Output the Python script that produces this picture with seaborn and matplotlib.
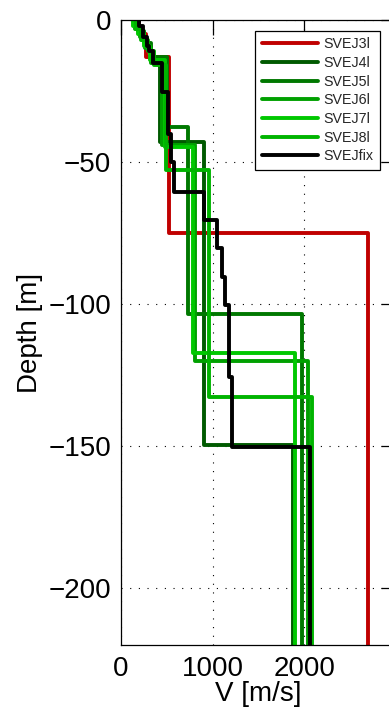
import numpy as np
import pandas as pd
import matplotlib
matplotlib.use("Agg")
import matplotlib.pyplot as plt
import seaborn as sns

# Layer-top depths [m] and shear-wave velocities [m/s] for each model.
# Each layer extends down to the next top; the last one is a half-space.
svej3l_top = [0, -5, -13, -75]
svej3l_v = [200, 270, 522, 2696]

svej4l_top = [0, -3, -7, -10, -14, -42.8, -149.6]
svej4l_v = [170, 230, 280, 330, 430, 903, 1880]

svej5l_top = [0, -4, -8, -13, -37.6, -103.5]
svej5l_v = [190, 250, 330, 500, 728, 1978]

svej6l_top = [0, -3, -6, -10, -15, -44, -120]
svej6l_v = [150, 210, 260, 330, 450, 810, 2044]

svej7l_top = [0, -2, -5, -9, -14, -44.6, -117.3]
svej7l_v = [130, 190, 250, 320, 480, 780, 1900]

svej8l_top = [0, -3, -7, -11, -16, -52.8, -132.6]
svej8l_v = [160, 220, 290, 360, 490, 957, 2080]

svejfix_top = [0, -2, -6, -9, -11, -15, -25.4, -40, -50, -60.5, -70.4, -80.3, -90.4, -100.4, -125.6, -150.2]
svejfix_v = [200, 240, 280, 310, 350, 445, 515, 548, 575, 900, 1048, 1102, 1138, 1174, 1211, 2062]

names = ["SVEJ3l", "SVEJ4l", "SVEJ5l", "SVEJ6l", "SVEJ7l", "SVEJ8l", "SVEJfix"]
tops = [svej3l_top, svej4l_top, svej5l_top, svej6l_top, svej7l_top, svej8l_top, svejfix_top]
vels = [svej3l_v, svej4l_v, svej5l_v, svej6l_v, svej7l_v, svej8l_v, svejfix_v]
colors = ["#c00000", "#005a00", "#007800", "#00a000", "#00c800", "#00b400", "#000000"]

depth_ticks = [0, -50, -100, -150, -200]
v_ticks = [0, 1000, 2000]
half_space_bottom = -240


def staircase(top, v):
    """Turn a layered model into the vertices of a step profile."""
    bottoms = list(top[1:]) + [half_space_bottom]
    xs, ys = [], []
    for t, b, vi in zip(top, bottoms, v):
        xs += [vi, vi]
        ys += [t, b]
    return xs, ys


frames = []
for name, t, v in zip(names, tops, vels):
    xs, ys = staircase(t, v)
    frames.append(pd.DataFrame({"V": xs, "Depth": ys, "model": name}))
df = pd.concat(frames, ignore_index=True)

sns.set_theme(style="white")
plt.rcParams["font.family"] = ["Liberation Sans", "DejaVu Sans"]

fig = plt.figure(figsize=(3.89, 7.12), dpi=100)
ax = fig.add_axes([121 / 389, 67 / 712, 275 / 389, 625 / 712])

for name, col in zip(names, colors):
    sub = df[df["model"] == name]
    sns.lineplot(data=sub, x="V", y="Depth", sort=False, estimator=None,
                 color=col, linewidth=2.8, label=name, ax=ax)

ax.set_xlim(0, 3000)
ax.set_ylim(-220, 0)
ax.set_xticks(v_ticks)
ax.set_yticks(depth_ticks)
ax.grid(True, color="black", linestyle=(0, (1, 6.8)), linewidth=0.8)
ax.tick_params(axis="both", direction="in", length=11, width=0.9,
               labelsize=20, colors="black", top=True, right=True)
ax.tick_params(axis="x", pad=8)
ax.tick_params(axis="y", pad=7)
for s in ax.spines.values():
    s.set_color("black")
    s.set_linewidth(0.9)

ax.set_xlabel("V [m/s]", fontsize=20, color="black", labelpad=-1)
ax.set_ylabel("Depth [m]", fontsize=20, color="black", labelpad=4)

leg = ax.legend(loc="upper right", bbox_to_anchor=(380 / 389, 1 - 30.7 / 712),
                bbox_transform=fig.transFigure, fontsize=10.3, frameon=True,
                fancybox=False, edgecolor="black", framealpha=1,
                handlelength=3.9, handletextpad=0.42, borderpad=0.45,
                labelspacing=0.33, borderaxespad=0)
leg.get_frame().set_linewidth(0.9)

fig.savefig("out.png", dpi=100)
